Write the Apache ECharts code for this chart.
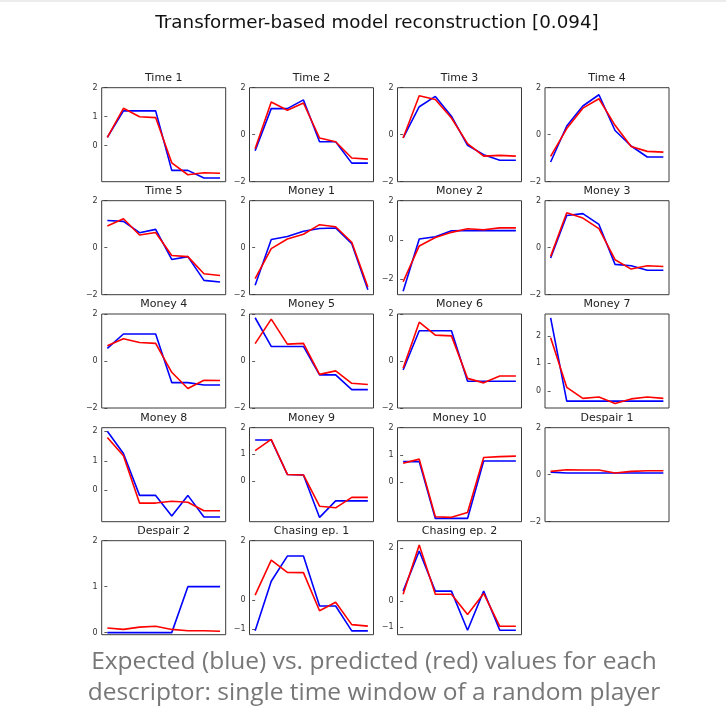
<!DOCTYPE html>
<html>
<head>
<meta charset="utf-8">
<script src="https://cdn.jsdelivr.net/npm/echarts@6/dist/echarts.min.js"></script>
<style>
html,body{margin:0;padding:0;background:#fff;}
#chart{width:726px;height:710px;}
</style>
</head>
<body>
<div id="chart"></div>
<script>
// ---- data ----
const titles = ["Time 1","Time 2","Time 3","Time 4","Time 5","Money 1","Money 2","Money 3","Money 4","Money 5","Money 6","Money 7","Money 8","Money 9","Money 10","Despair 1","Despair 2","Chasing ep. 1","Chasing ep. 2"];

const time1Expected = [0.29, 1.20, 1.20, 1.20, -0.85, -0.85, -1.11, -1.11];
const time1Predicted = [0.29, 1.29, 1.00, 0.97, -0.59, -1.00, -0.93, -0.95];
const time2Expected = [-0.68, 1.11, 1.11, 1.48, -0.30, -0.30, -1.21, -1.21];
const time2Predicted = [-0.60, 1.39, 1.04, 1.35, -0.14, -0.30, -0.99, -1.04];
const time3Expected = [-0.14, 1.19, 1.63, 0.79, -0.45, -0.85, -1.09, -1.09];
const time3Predicted = [-0.14, 1.66, 1.50, 0.71, -0.38, -0.91, -0.88, -0.91];
const time4Expected = [-1.16, 0.37, 1.22, 1.70, 0.18, -0.48, -0.95, -0.95];
const time4Predicted = [-0.92, 0.26, 1.13, 1.53, 0.40, -0.50, -0.71, -0.74];
const time5Expected = [1.16, 1.12, 0.64, 0.78, -0.50, -0.38, -1.39, -1.46];
const time5Predicted = [0.92, 1.23, 0.54, 0.65, -0.33, -0.38, -1.11, -1.18];
const money1Expected = [-1.60, 0.35, 0.48, 0.70, 0.82, 0.84, 0.17, -1.79];
const money1Predicted = [-1.32, -0.04, 0.37, 0.57, 0.98, 0.89, 0.23, -1.67];
const money2Expected = [-2.60, 0.05, 0.17, 0.47, 0.48, 0.48, 0.48, 0.48];
const money2Predicted = [-2.12, -0.30, 0.13, 0.39, 0.57, 0.52, 0.62, 0.62];
const money3Expected = [-0.44, 1.37, 1.45, 0.99, -0.71, -0.77, -0.96, -0.96];
const money3Predicted = [-0.37, 1.49, 1.26, 0.81, -0.51, -0.91, -0.77, -0.80];
const money4Expected = [0.54, 1.15, 1.15, 1.15, -0.92, -0.92, -1.02, -1.02];
const money4Predicted = [0.65, 0.95, 0.79, 0.75, -0.48, -1.17, -0.82, -0.83];
const money5Expected = [1.84, 0.62, 0.62, 0.62, -0.59, -0.59, -1.22, -1.22];
const money5Predicted = [0.74, 1.78, 0.72, 0.75, -0.57, -0.42, -0.95, -1.00];
const money6Expected = [-0.38, 1.29, 1.29, 1.29, -0.86, -0.86, -0.86, -0.86];
const money6Predicted = [-0.31, 1.65, 1.10, 1.07, -0.74, -0.93, -0.64, -0.64];
const money7Expected = [2.65, -0.37, -0.37, -0.37, -0.37, -0.37, -0.37, -0.37];
const money7Predicted = [1.93, 0.13, -0.27, -0.22, -0.46, -0.29, -0.22, -0.27];
const money8Expected = [2.00, 1.25, -0.17, -0.17, -0.87, -0.17, -0.90, -0.90];
const money8Predicted = [1.79, 1.17, -0.43, -0.43, -0.37, -0.40, -0.69, -0.69];
const money9Expected = [1.54, 1.54, 0.25, 0.23, -1.36, -0.74, -0.74, -0.74];
const money9Predicted = [1.14, 1.56, 0.25, 0.23, -0.94, -1.00, -0.61, -0.61];
const money10Expected = [0.76, 0.76, -1.32, -1.32, -1.32, 0.78, 0.78, 0.78];
const money10Predicted = [0.70, 0.85, -1.26, -1.28, -1.10, 0.91, 0.94, 0.96];
const despair1Expected = [0.11, 0.07, 0.07, 0.07, 0.07, 0.07, 0.07, 0.07];
const despair1Predicted = [0.14, 0.21, 0.20, 0.20, 0.07, 0.14, 0.17, 0.17];
const despair2Expected = [0.00, 0.00, 0.00, 0.00, 0.00, 1.00, 1.00, 1.00];
const despair2Predicted = [0.10, 0.07, 0.12, 0.14, 0.07, 0.04, 0.04, 0.03];
const chasing1Expected = [-1.05, 0.63, 1.48, 1.48, -0.21, -0.21, -1.05, -1.05];
const chasing1Predicted = [0.16, 1.34, 0.93, 0.92, -0.37, -0.08, -0.84, -0.89];
const chasing2Expected = [0.37, 1.90, 0.37, 0.37, -1.12, 0.37, -1.12, -1.12];
const chasing2Predicted = [0.25, 2.13, 0.25, 0.25, -0.52, 0.28, -0.97, -0.97];

const expectedSeries = [time1Expected,time2Expected,time3Expected,time4Expected,time5Expected,money1Expected,money2Expected,money3Expected,money4Expected,money5Expected,money6Expected,money7Expected,money8Expected,money9Expected,money10Expected,despair1Expected,despair2Expected,chasing1Expected,chasing2Expected];
const predictedSeries = [time1Predicted,time2Predicted,time3Predicted,time4Predicted,time5Predicted,money1Predicted,money2Predicted,money3Predicted,money4Predicted,money5Predicted,money6Predicted,money7Predicted,money8Predicted,money9Predicted,money10Predicted,despair1Predicted,despair2Predicted,chasing1Predicted,chasing2Predicted];

// y-axis limits and tick labels of each panel
const yMins = [-1.24, -2, -2, -2, -2, -2, -2.78, -2, -2, -2, -2, -0.62, -1.06, -1.52, -1.44, -2, -0.045, -1.18, -1.29];
const yMaxs = [2, 2, 2, 2, 2, 2, 2, 2, 2, 2, 2, 2.79, 2.12, 2, 2, 2, 2, 2, 2.29];
const yTickLabels = [
  [2,1,0],[2,0,-2],[2,0,-2],[2,0,-2],[2,0,-2],[2,0,-2],[2,0,-2],[2,0,-2],
  [2,0,-2],[2,0,-2],[2,0,-2],[2,1,0],[2,1,0],[2,1,0],[2,1,0],[2,0,-2],
  [2,1,0],[2,0,-1],[2,0,-1]
];

const chartTitle = "Transformer-based model reconstruction [0.094]";
const captionLines = ["Expected (blue) vs. predicted (red) values for each", "descriptor: single time window of a random player"];

// ---- layout ----
const colLeft = [101.7, 249.5, 397.5, 545];
const rowTop = [87.7, 200.7, 314, 427.7, 540.7];
const panelW = 124, panelH = 94;

const chart = echarts.init(document.getElementById('chart'), null, {renderer:'canvas'});
const grids = [], xAxes = [], yAxes = [], series = [], graphics = [];

titles.forEach((t, i) => {
  const r = Math.floor(i / 4), c = i % 4;
  const left = colLeft[c], top = rowTop[r];
  grids.push({left: left, top: top, width: panelW, height: panelH, show: true,
    borderColor: '#3a3a3a', borderWidth: 1, backgroundColor: 'transparent', containLabel: false});
  xAxes.push({type: 'value', gridIndex: i, min: -0.35, max: 7.35, show: false});
  yAxes.push({type: 'value', gridIndex: i, min: yMins[i], max: yMaxs[i],
    axisLine: {show: false}, splitLine: {show: false},
    axisTick: {show: true, length: 3, lineStyle: {color: '#333', width: 0.8}, customValues: yTickLabels[i]},
    axisLabel: {show: true, customValues: yTickLabels[i], fontSize: 8, color: '#333', margin: 4,
      fontFamily: 'DejaVu Sans', formatter: v => String(v).replace('-', '\u2212')}
  });
  series.push({type: 'line', xAxisIndex: i, yAxisIndex: i, showSymbol: false, symbol: 'none',
    lineStyle: {color: '#0000ff', width: 1.6}, itemStyle: {color: '#0000ff'},
    data: expectedSeries[i].map((v, k) => [k, v]), z: 2});
  series.push({type: 'line', xAxisIndex: i, yAxisIndex: i, showSymbol: false, symbol: 'none',
    lineStyle: {color: '#ff0000', width: 1.6}, itemStyle: {color: '#ff0000'},
    data: predictedSeries[i].map((v, k) => [k, v]), z: 3});
  graphics.push({type: 'text', x: left + panelW / 2, y: top - 10,
    style: {text: t, textAlign: 'center', textVerticalAlign: 'middle',
      font: '11px "DejaVu Sans"', fill: '#222'}});
});

graphics.push({type: 'rect', shape: {x: 0, y: 0, width: 726, height: 2}, style: {fill: '#ececec'}});
graphics.push({type: 'text', x: 377, y: 23,
  style: {text: chartTitle, textAlign: 'center', textVerticalAlign: 'middle',
    font: '18.3px "DejaVu Sans"', fill: '#111'}});
graphics.push({type: 'text', x: 374, y: 662,
  style: {text: captionLines[0], textAlign: 'center', textVerticalAlign: 'middle',
    font: '24.5px "Open Sans"', fill: '#777'}});
graphics.push({type: 'text', x: 374, y: 693,
  style: {text: captionLines[1], textAlign: 'center', textVerticalAlign: 'middle',
    font: '24.5px "Open Sans"', fill: '#777'}});

chart.setOption({
  animation: false,
  backgroundColor: '#fff',
  grid: grids, xAxis: xAxes, yAxis: yAxes, series: series,
  graphic: graphics
});
</script>
</body>
</html>
